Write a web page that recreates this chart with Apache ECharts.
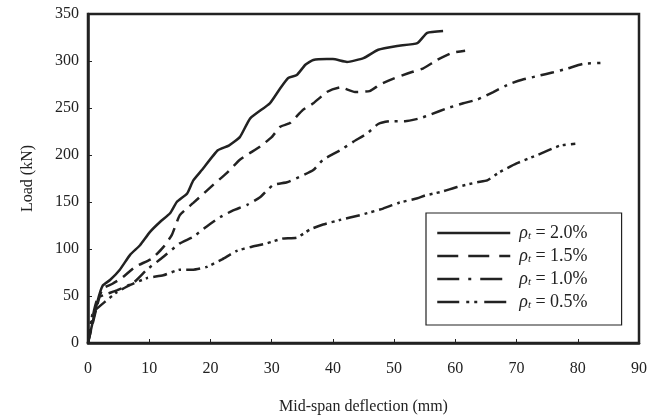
<!DOCTYPE html>
<html>
<head>
<meta charset="utf-8">
<script src="https://cdn.jsdelivr.net/npm/echarts@6/dist/echarts.min.js"></script>
<style>
  html, body { margin: 0; padding: 0; background: #fff; }
  #chart { width: 664px; height: 417px; }
</style>
</head>
<body>
<div id="chart"></div>
<script>
// deflection (mm), load (kN)
const rho20 = [[0,0],[1.5,43],[2.4,61],[3.6,67],[5.2,78],[6.9,94],[8.5,104],[10.1,118],[11.8,129],[13.4,138],[14.5,150],[16.2,159],[17.2,173],[18.6,184],[21.2,205],[23,210],[24.8,219],[26.5,239],[29.7,255],[31.4,271],[32.7,282],[34.1,285],[35.5,296],[36.8,301],[39,302],[40,302],[42.3,299],[45,303],[47.4,312],[50.5,316],[53.8,319],[55.4,330],[58,332]];
const rho15 = [[0,0],[1.5,40],[2.4,58],[4,63],[5.7,70],[7.7,81],[10.5,90],[12.3,102],[13.7,115],[15,136],[17.2,149],[20.4,168],[22.7,181],[24.8,195],[28.1,209],[30,219],[31.4,230],[33,234],[35.1,248],[36.8,255],[39,267],[41.2,272],[43.6,267],[46,268],[47.7,275],[49.8,281],[52.3,287],[54.7,292],[57,301],[59.6,309],[61.6,311]];
const rho10 = [[0,0],[1,35],[1.6,48],[3,52],[4.7,56],[7.4,64],[9.6,78],[11.8,89],[15,106],[17.2,113],[19.4,124],[21.6,134],[23.7,141],[26,147],[28.1,155],[30.2,168],[32.5,171],[35,178],[36.8,184],[38.4,195],[41.2,205],[43.3,214],[45.6,223],[47.4,233],[49.3,236],[51.8,236],[54.2,239],[55.9,243],[58.8,250],[61.3,255],[63.6,259],[66.2,267],[69,276],[70.9,280],[73.4,284],[76,288],[78.3,292],[80.9,297],[83.7,298]];
const rho05 = [[0,0],[0.8,32],[2.8,44],[4.7,54],[7,62],[9.6,69],[12.3,72],[15,78],[17.2,78],[19.4,81],[21.9,89],[24.3,98],[26.5,102],[29.2,106],[31.7,111],[34.1,112],[36.3,121],[38.4,126],[41.2,131],[44.4,136],[48.2,143],[50.7,149],[53.8,154],[55.1,157],[57.8,161],[60.3,166],[63.6,171],[65.2,173],[67.3,182],[70,191],[73.4,200],[77.1,210],[79.6,212]];

const seriesNames = ['{i|ρ}{s|t} = 2.0%', '{i|ρ}{s|t} = 1.5%', '{i|ρ}{s|t} = 1.0%', '{i|ρ}{s|t} = 0.5%'];
const seriesData = [rho20, rho15, rho10, rho05];
const dashes = ['solid', [13, 7], [14, 6, 3, 6], [14, 5, 3, 4, 3, 5]];
const legendDashes = ['solid', [21, 10], [22, 9, 3, 9], [22, 7, 3, 5, 3, 7]];

const font = '"Liberation Serif", "DejaVu Serif", serif';
const ink = '#222';

const chart = echarts.init(document.getElementById('chart'), null, { renderer: 'canvas' });

const option = {
  animation: false,
  backgroundColor: '#fff',
  grid: {
    left: 88, right: 25, top: 14, bottom: 74,
    outerBoundsMode: 'none',
    show: true, borderColor: ink, borderWidth: 2.5
  },
  xAxis: {
    type: 'value', min: 0, max: 90, interval: 10,
    name: 'Mid-span deflection (mm)',
    nameLocation: 'middle', nameGap: 56,
    nameTextStyle: { fontFamily: font, fontSize: 16, color: ink },
    axisLine: { show: true, lineStyle: { color: ink, width: 2.5 } },
    axisTick: { show: true, inside: true, length: 4, lineStyle: { color: ink, width: 1 } },
    axisLabel: { fontFamily: font, fontSize: 16, color: ink, margin: 18 },
    splitLine: { show: false }
  },
  yAxis: {
    type: 'value', min: 0, max: 350, interval: 50,
    name: 'Load (kN)',
    nameLocation: 'middle', nameGap: 52, nameRotate: 90,
    nameTextStyle: { fontFamily: font, fontSize: 16, color: ink },
    axisLine: { show: true, lineStyle: { color: ink, width: 2.5 } },
    axisTick: { show: true, inside: true, length: 4, lineStyle: { color: ink, width: 1 } },
    axisLabel: { fontFamily: font, fontSize: 16, color: ink, margin: 9 },
    splitLine: { show: false }
  },
  legend: {
    orient: 'vertical',
    left: 426, top: 213,
    padding: [11, 34, 14, 10],
    itemGap: 5,
    itemWidth: 73, itemHeight: 14,
    borderColor: ink, borderWidth: 1.2,
    backgroundColor: '#fff',
    itemStyle: { opacity: 0 },
    textStyle: {
      fontFamily: font, fontSize: 18, color: ink, padding: [0, 0, 0, 4],
      rich: {
        i: { fontFamily: font, fontSize: 18, fontStyle: 'italic', color: ink },
        s: { fontFamily: font, fontSize: 11, fontStyle: 'italic', color: ink, verticalAlign: 'bottom', padding: [6, 0, 0, 0] }
      }
    },
    data: seriesNames.map((n, k) => ({
      name: n,
      lineStyle: { color: ink, width: 2.5, type: legendDashes[k] }
    }))
  },
  series: seriesData.map((d, k) => ({
    name: seriesNames[k],
    type: 'line',
    data: d,
    showSymbol: false,
    symbol: 'none',
    smooth: 0.15,
    color: ink,
    lineStyle: { color: ink, width: 2.5, type: dashes[k] }
  }))
};

chart.setOption(option);
</script>
</body>
</html>
